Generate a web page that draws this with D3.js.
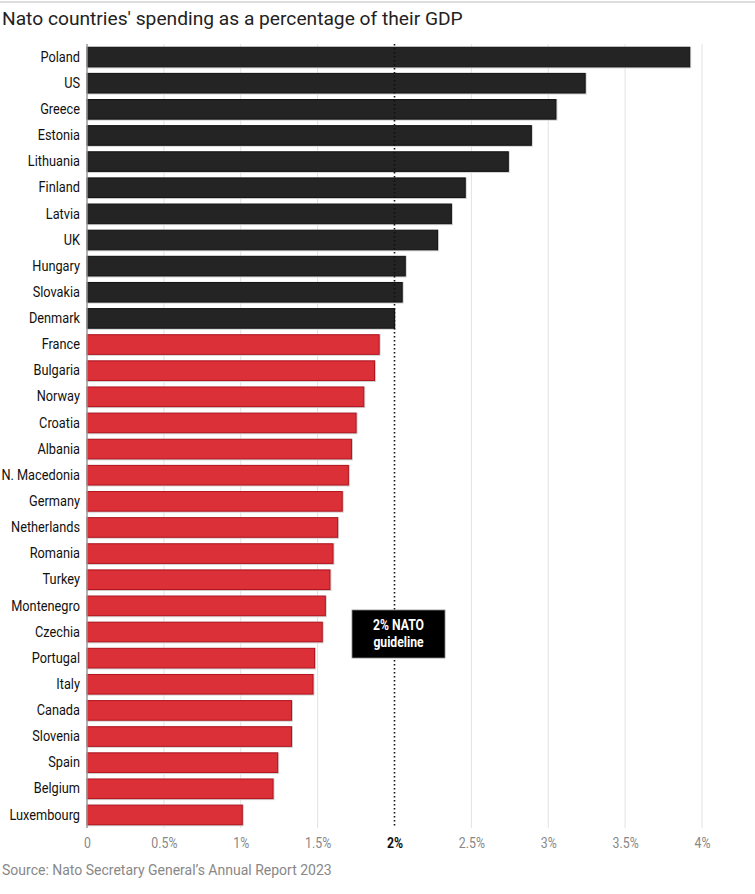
<!DOCTYPE html>
<html><head><meta charset="utf-8">
<script src="https://cdn.jsdelivr.net/npm/d3@7"></script>
<style>
body{margin:0;background:#fff;}
svg{display:block;}
</style></head>
<body>
<svg id="chart" width="755" height="894"></svg>
<script>
const countries = ["Poland","US","Greece","Estonia","Lithuania","Finland","Latvia","UK","Hungary","Slovakia","Denmark","France","Bulgaria","Norway","Croatia","Albania","N. Macedonia","Germany","Netherlands","Romania","Turkey","Montenegro","Czechia","Portugal","Italy","Canada","Slovenia","Spain","Belgium","Luxembourg"];
const values = [3.92,3.24,3.05,2.89,2.74,2.46,2.37,2.28,2.07,2.05,2.0,1.90,1.87,1.80,1.75,1.72,1.70,1.66,1.63,1.60,1.58,1.55,1.53,1.48,1.47,1.33,1.33,1.24,1.21,1.01];
const tickValues = [0,0.5,1,1.5,2,2.5,3,3.5,4];
const tickLabels = ["0","0.5%","1%","1.5%","2%","2.5%","3%","3.5%","4%"];
const guideline = 2;
const title = "Nato countries' spending as a percentage of their GDP";
const source = "Source: Nato Secretary General\u2019s Annual Report 2023";
const annotation = ["2% NATO","guideline"];

(function(){
const data = countries.map((c,i)=>({country:c,value:values[i]}));
const svg = d3.select("#chart");
const font = "'Roboto','Liberation Sans',sans-serif";
const mLeft = 87, mRight = 702, mTop = 44, mBottom = 828;

svg.append("line").attr("x1",0).attr("x2",755).attr("y1",2).attr("y2",2).attr("stroke","#bbb").attr("stroke-width",1);
svg.append("text").attr("x",2).attr("y",25).text(title)
  .attr("font-family",font).attr("font-size",19.2).attr("fill","#222");

const x = d3.scaleLinear().domain([0,4]).range([mLeft,mRight]);
const y = d3.scaleBand().domain(countries).range([mTop, mBottom]).paddingInner(0.25).paddingOuter(0.125);

svg.append("g").selectAll("line").data(tickValues.filter(v=>v>0 && v!==guideline)).join("line")
  .attr("x1",d=>x(d)).attr("x2",d=>x(d)).attr("y1",mTop).attr("y2",mBottom)
  .attr("stroke","#e2e2e2").attr("stroke-width",1);

svg.append("g").selectAll("rect").data(data).join("rect")
  .attr("x",x(0)).attr("y",d=>y(d.country)-0.5)
  .attr("width",d=>x(d.value)-x(0)+1.5).attr("height",y.bandwidth()+2)
  .attr("fill","#cfcfcf");

svg.append("g").selectAll("rect").data(data).join("rect")
  .attr("x",x(0)).attr("y",d=>y(d.country))
  .attr("width",d=>x(d.value)-x(0)).attr("height",y.bandwidth())
  .attr("fill",d=>d.value>=guideline?"#242424":"#dc3039")
  .attr("stroke",d=>d.value>=guideline?"#111":"#b3121c").attr("stroke-width",1);

svg.append("line").attr("x1",x(guideline)).attr("x2",x(guideline)).attr("y1",mTop).attr("y2",mBottom)
  .attr("stroke","#111").attr("stroke-width",1.6).attr("stroke-dasharray","1.6,2.4");

svg.append("line").attr("x1",x(0)).attr("x2",x(0)).attr("y1",mTop).attr("y2",mBottom)
  .attr("stroke","#999").attr("stroke-width",1.5);

const yAxis = d3.axisLeft(y).tickSize(0).tickPadding(0);
const ya = svg.append("g").attr("transform",`translate(${x(0)-7},0)`).call(yAxis);
ya.select(".domain").remove();
ya.selectAll("text").attr("x",0).attr("font-family",font).attr("font-size",14.5).attr("fill","#111")
  .attr("transform","scale(0.88,1)");

const xAxis = d3.axisBottom(x).tickValues(tickValues).tickSize(0).tickPadding(10)
  .tickFormat((d,i)=>tickLabels[i]);
const xa = svg.append("g").attr("transform",`translate(0,${mBottom})`).call(xAxis);
xa.select(".domain").remove();
xa.selectAll("text").attr("font-family",font).attr("font-size",14)
  .attr("transform","scale(0.88,1)")
  .attr("fill",d=>d===guideline?"#111":"#888")
  .attr("font-weight",d=>d===guideline?"bold":"normal");

const bx = 352, bw = 93;
const ann = svg.append("g");
ann.append("rect").attr("x",bx).attr("y",610).attr("width",bw).attr("height",48)
  .attr("fill","#000").attr("stroke","#888").attr("stroke-width",0.8);
ann.selectAll("text").data(annotation).join("text")
  .attr("transform",(d,i)=>`translate(${bx+bw/2},${630+i*17}) scale(0.84,1)`)
  .attr("text-anchor","middle")
  .attr("font-family",font).attr("font-weight","bold").attr("font-size",14.5).attr("fill","#fff").text(d=>d);

svg.append("text").attr("x",2).attr("y",875).text(source)
  .attr("font-family",font).attr("font-size",14).attr("fill","#888");
})();
</script>
</body></html>
